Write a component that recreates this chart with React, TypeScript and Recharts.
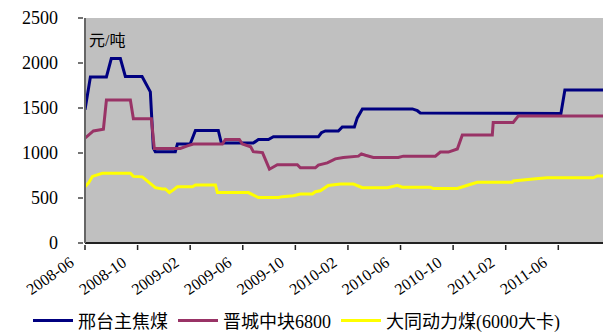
import { LineChart, Line, XAxis, YAxis, CartesianGrid, Legend } from 'recharts';

// months counted from 2008-06
const tickMonths = [0, 4, 8, 12, 16, 20, 24, 28, 32, 36];
const tickLabels = ['2008-06', '2008-10', '2009-02', '2009-06', '2009-10', '2010-02', '2010-06', '2010-10', '2011-02', '2011-06'];
const yTicks = [0, 500, 1000, 1500, 2000, 2500];

const xingtaiMonths = [0, 0.41, 1.63, 2.0, 2.69, 3.07, 4.34, 4.97, 5.2, 5.35, 6.87, 7.03, 8.0, 8.4, 10.14, 10.37, 12.8, 13.19, 13.95, 14.33, 17.75, 17.98, 18.28, 19.27, 19.57, 20.49, 20.71, 21.1, 24.9, 25.28, 25.5, 36.2, 36.5, 39.4];
const xingtaiPrices = [1480, 1845, 1845, 2050, 2050, 1850, 1850, 1680, 1055, 1015, 1015, 1100, 1100, 1250, 1250, 1110, 1110, 1150, 1150, 1180, 1180, 1225, 1245, 1245, 1290, 1290, 1390, 1490, 1490, 1470, 1445, 1440, 1700, 1700];

const jinchengMonths = [0, 0.64, 1.4, 1.63, 3.45, 3.68, 5.05, 5.27, 7.25, 7.79, 8.24, 10.45, 10.68, 11.74, 11.97, 12.6, 12.8, 13.5, 14.03, 14.63, 16.15, 16.38, 17.52, 17.75, 18.43, 19.04, 19.65, 20.8, 21.02, 21.33, 21.93, 23.83, 24.21, 26.65, 27.03, 27.64, 28.32, 28.7, 30.98, 31.05, 32.57, 32.95, 39.4];
const jinchengPrices = [1165, 1245, 1265, 1590, 1590, 1380, 1380, 1050, 1050, 1080, 1100, 1100, 1150, 1150, 1100, 1070, 1015, 1005, 820, 870, 870, 835, 835, 865, 890, 935, 950, 965, 990, 975, 950, 950, 965, 965, 1010, 1010, 1045, 1200, 1200, 1340, 1340, 1410, 1410];

const datongMonths = [0, 0.26, 0.56, 1.32, 3.45, 3.68, 4.36, 4.82, 5.35, 5.89, 6.11, 6.42, 6.72, 7.03, 8.17, 8.4, 9.92, 10.07, 12.43, 13.19, 14.71, 15.01, 15.85, 16.38, 17.29, 17.52, 17.9, 18.5, 19.43, 20.42, 21.1, 23.0, 23.76, 24.13, 26.26, 26.5, 28.32, 29.16, 29.84, 32.5, 32.57, 34.09, 35.16, 38.66, 38.97, 39.4];
const datongPrices = [625, 665, 740, 775, 775, 740, 735, 680, 615, 600, 600, 560, 590, 625, 625, 645, 645, 560, 560, 505, 505, 515, 525, 545, 545, 570, 580, 640, 655, 655, 615, 615, 640, 620, 620, 605, 605, 645, 675, 675, 690, 710, 725, 725, 745, 745];

const toPoints = (months: number[], prices: number[]) => months.map((t, i) => ({ t, v: prices[i] }));

const series = [
  { name: '邢台主焦煤', color: '#000080', data: toPoints(xingtaiMonths, xingtaiPrices) },
  { name: '晋城中块6800', color: '#993366', data: toPoints(jinchengMonths, jinchengPrices) },
  { name: '大同动力煤(6000大卡)', color: '#FFFF00', data: toPoints(datongMonths, datongPrices) },
];

const FONT = "'Liberation Serif', 'Noto Sans CJK SC', serif";

const YTick = (props: any) => {
  const { x, y, payload } = props;
  return (
    <g>
      <line x1={x + 1} x2={x + 6} y1={y} y2={y} stroke="#444" strokeWidth={1.5} />
      <text x={x - 19} y={y} dy={6} textAnchor="end" fontSize={18} fontFamily={FONT} fill="#000">
        {payload.value}
      </text>
    </g>
  );
};

const XTick = (props: any) => {
  const { x, y, payload } = props;
  const label = tickLabels[tickMonths.indexOf(payload.value)];
  return (
    <g>
      <line x1={x} x2={x} y1={y - 1} y2={y - 6} stroke="#222" strokeWidth={1.5} />
      <text transform={`translate(${x - 10},${y + 14}) rotate(-35)`} textAnchor="end" fontSize={16} fontFamily={FONT} fill="#000">
        {label}
      </text>
    </g>
  );
};

const LegendRow = () => (
  <div style={{ display: 'flex', justifyContent: 'center', alignItems: 'center', height: 28, fontFamily: FONT, fontSize: 18, color: '#000' }}>
    {series.map((s) => (
      <div key={s.name} style={{ display: 'flex', alignItems: 'center', marginRight: 10 }}>
        <div style={{ width: 40, height: 3, background: s.color, marginRight: 5 }} />
        <span>{s.name}</span>
      </div>
    ))}
  </div>
);

export default function App() {
  return (
    <div style={{ position: 'absolute', left: 0, top: 0, width: 603, height: 334, background: '#fff' }}>
      <LineChart width={603} height={334} margin={{ top: 18, right: 0, left: 0, bottom: 0 }}>
        <CartesianGrid fill="#C0C0C0" stroke="none" horizontal={false} vertical={false} />
        <XAxis
          type="number"
          dataKey="t"
          domain={[0, 39.4]}
          ticks={tickMonths}
          allowDataOverflow
          height={63}
          stroke="#222"
          strokeWidth={2}
          tickLine={false}
          tick={<XTick />}
        />
        <YAxis
          domain={[0, 2500]}
          ticks={yTicks}
          width={85}
          stroke="#666"
          strokeWidth={2}
          tickLine={false}
          tick={<YTick />}
        />
        {series.map((s) => (
          <Line
            key={s.name}
            data={s.data}
            dataKey="v"
            name={s.name}
            type="linear"
            stroke={s.color}
            strokeWidth={3}
            dot={false}
            isAnimationActive={false}
          />
        ))}
        <Legend verticalAlign="bottom" height={28} content={<LegendRow />} />
      </LineChart>
      <div style={{ position: 'absolute', left: 89, top: 27, fontFamily: FONT, fontSize: 16, color: '#000' }}>元/吨</div>
    </div>
  );
}
